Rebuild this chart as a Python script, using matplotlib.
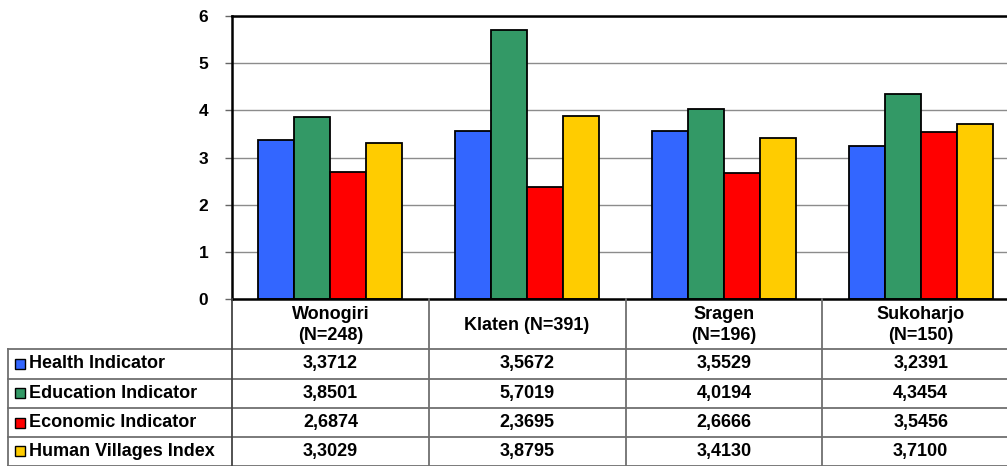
import matplotlib
matplotlib.use("Agg")
import matplotlib.pyplot as plt
import matplotlib.transforms as mtransforms
from matplotlib.lines import Line2D
from matplotlib.patches import Rectangle

plt.rcParams['font.family'] = ['Liberation Sans', 'DejaVu Sans']

categories = ["Wonogiri\n(N=248)", "Klaten (N=391)", "Sragen\n(N=196)", "Sukoharjo\n(N=150)"]
series_names = ["Health Indicator", "Education Indicator", "Economic Indicator", "Human Villages Index"]
health = [3.3712, 3.5672, 3.5529, 3.2391]
education = [3.8501, 5.7019, 4.0194, 4.3454]
economic = [2.6874, 2.3695, 2.6666, 3.5456]
hvi = [3.3029, 3.8795, 3.4130, 3.7100]
colors = ["#3366FF", "#339966", "#FF0000", "#FFCC00"]
yticks = [0, 1, 2, 3, 4, 5, 6]

series = [health, education, economic, hvi]

W, H = 1007, 466
fig = plt.figure(figsize=(W / 100, H / 100), dpi=100)
x0, x1, ytop, ybot = 232, 1019, 16, 299
ax = fig.add_axes([x0 / W, 1 - ybot / H, (x1 - x0) / W, (ybot - ytop) / H])

n = len(categories)
bw = 0.183
for i, (vals, c) in enumerate(zip(series, colors)):
    xs = [k + (i - 1.5) * bw for k in range(n)]
    ax.bar(xs, vals, width=bw, color=c, edgecolor="black", linewidth=1.3, zorder=3)

ax.set_xlim(-0.5, n - 0.5)
ax.set_ylim(0, 6)
ax.set_yticks(yticks)
ax.set_yticklabels([str(t) for t in yticks], fontsize=12.5, fontweight="bold")
ax.set_xticks([])
ax.grid(axis="y", color="#8c8c8c", linewidth=1.0, zorder=0)
for s in ["right", "bottom"]:
    ax.spines[s].set_visible(False)
ax.spines["left"].set_linewidth(1.8)
ax.spines["top"].set_linewidth(1.8)
ax.tick_params(axis="y", length=5, width=1, color="#666666", pad=12)
ax.axhline(0, color="black", linewidth=1.8, zorder=4, clip_on=False)

# data table below
tr = mtransforms.blended_transform_factory(ax.transData, fig.transFigure)
def fy(p):
    return 1 - p / H

row_edges = [299, 349, 378.5, 408, 437, 465.5]
line_col = "#6f6f6f"
lw = 1.3
fs = 13
# horizontal lines
for yp in row_edges[1:]:
    fig.add_artist(Line2D([8 / W, 1.0], [fy(yp), fy(yp)], color=line_col, linewidth=lw))
# vertical lines between categories
for k in range(n):
    xe = k - 0.5
    fig.add_artist(Line2D([xe, xe], [fy(299), fy(row_edges[-1])], transform=tr,
                          color="#444444" if k == 0 else line_col, linewidth=lw))
# left border of label column
fig.add_artist(Line2D([8 / W, 8 / W], [fy(349), fy(row_edges[-1])], color=line_col, linewidth=lw))

# header
for k, cat in enumerate(categories):
    fig.text(k, fy(325), cat, transform=tr, ha="center", va="center",
             fontsize=fs, fontweight="bold", linespacing=1.25)

# rows
for r, (name, vals, c) in enumerate(zip(series_names, series, colors)):
    yc = fy((row_edges[r + 1] + row_edges[r + 2]) / 2)
    fig.add_artist(Rectangle((15 / W, yc - 5 / H), 10 / W, 10 / H, facecolor=c,
                             edgecolor="black", linewidth=1.0, transform=fig.transFigure))
    fig.text(29 / W, yc, name, ha="left", va="center", fontsize=fs, fontweight="bold")
    for k, v in enumerate(vals):
        fig.text(k, yc, f"{v:.4f}".replace(".", ","), transform=tr, ha="center", va="center",
                 fontsize=fs, fontweight="bold")

fig.savefig("out.png", dpi=100)
